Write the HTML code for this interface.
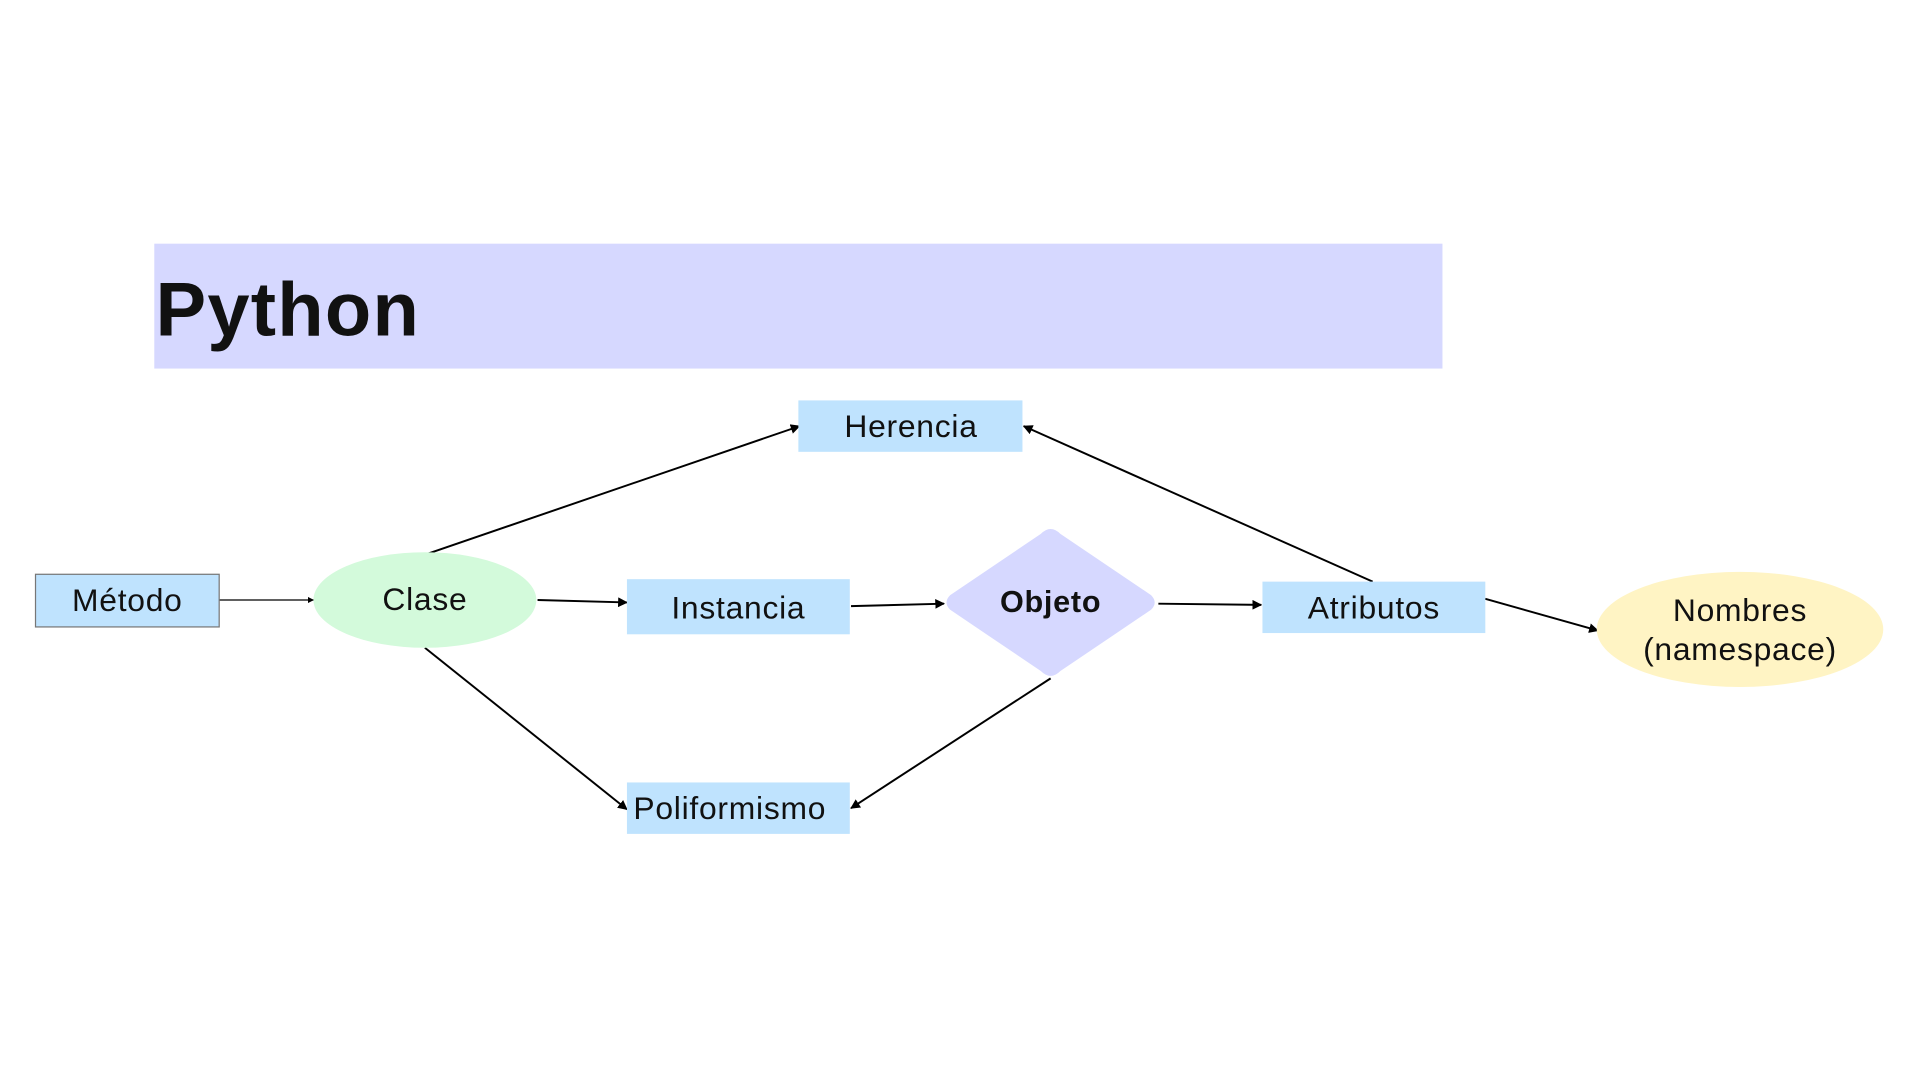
<!DOCTYPE html>
<html><head><meta charset="utf-8"><style>
html,body{margin:0;padding:0;background:#fff;width:1920px;height:1080px;overflow:hidden}
svg{display:block}
text{font-family:"Liberation Sans",sans-serif;fill:#111;letter-spacing:0.6px}
</style></head><body>
<svg width="1920" height="1080" viewBox="0 0 1568 882" xmlns="http://www.w3.org/2000/svg">
<defs><marker id="a" viewBox="0 0 10 10" refX="9" refY="5" markerWidth="5" markerHeight="5" orient="auto"><path d="M0,0L10,5L0,10z" fill="#000"/></marker></defs>
<rect x="126" y="199" width="1052" height="102" fill="#d6d8ff"/>
<text x="127" y="274" font-size="62" font-weight="bold" fill="#000" style="letter-spacing:1px">Python</text>
<g stroke="#000" stroke-width="1.6" fill="none" marker-end="url(#a)">
<line x1="179" y1="490" x2="256" y2="490" stroke-width="1"/>
<line x1="439" y1="490" x2="512" y2="492"/>
<line x1="695" y1="495" x2="771" y2="493"/>
<line x1="946" y1="493" x2="1030" y2="494"/>
<line x1="1213" y1="489" x2="1305" y2="515"/>
<line x1="347" y1="453" x2="653" y2="348"/>
<line x1="1121" y1="475" x2="836" y2="348"/>
<line x1="347" y1="529" x2="512" y2="661"/>
<line x1="858" y1="554" x2="695" y2="660"/>
</g>
<rect x="652" y="327" width="183" height="42" fill="#bfe3fe"/>
<text x="744" y="357" font-size="26" text-anchor="middle">Herencia</text>
<rect x="29" y="469" width="150" height="43" fill="#bfe3fe" stroke="#777" stroke-width="1"/>
<text x="104" y="499" font-size="26" text-anchor="middle">Método</text>
<ellipse cx="347" cy="490" rx="91" ry="39" fill="#d3fadb"/>
<text x="347" y="498" font-size="26" text-anchor="middle">Clase</text>
<rect x="512" y="473" width="182" height="45" fill="#bfe3fe"/>
<text x="603" y="505" font-size="26" text-anchor="middle">Instancia</text>
<path d="M850,436 Q858,428 866,436 L940,486 Q946,492 940,498 L866,548 Q858,556 850,548 L776,498 Q770,492 776,486 Z" fill="#d6d8ff"/>
<text x="858" y="500" font-size="25" font-weight="bold" text-anchor="middle">Objeto</text>
<rect x="1031" y="475" width="182" height="42" fill="#bfe3fe"/>
<text x="1122" y="505" font-size="26" text-anchor="middle">Atributos</text>
<ellipse cx="1421" cy="514" rx="117" ry="47" fill="#fff4c4"/>
<text x="1421" y="507" font-size="26" text-anchor="middle">Nombres</text>
<text x="1421" y="539" font-size="26" text-anchor="middle">(namespace)</text>
<rect x="512" y="639" width="182" height="42" fill="#bfe3fe"/>
<text x="596" y="669" font-size="26" text-anchor="middle">Poliformismo</text>
</svg>
</body></html>
